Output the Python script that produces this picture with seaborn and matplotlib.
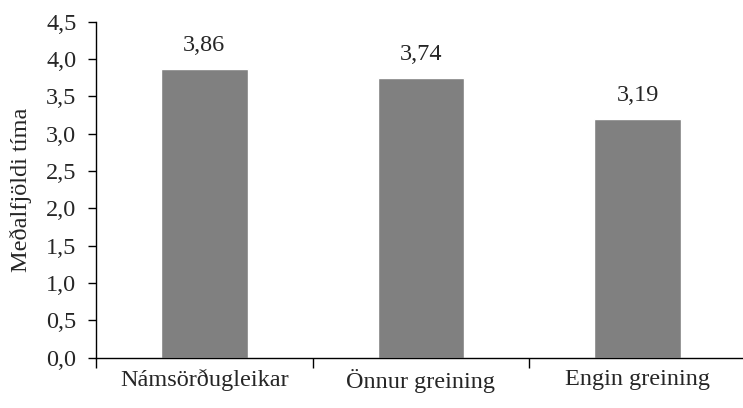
import matplotlib
matplotlib.use('Agg')
import matplotlib.pyplot as plt
import matplotlib.ticker as mticker
import pandas as pd
import seaborn as sns

# gögn
flokkar = ['Námsörðugleikar', 'Önnur greining', 'Engin greining']
medaltal = [3.86, 3.74, 3.19]
y_ticks = [0.0, 0.5, 1.0, 1.5, 2.0, 2.5, 3.0, 3.5, 4.0, 4.5]

sns.set_style('white')
plt.rcParams['font.family'] = ['Liberation Serif', 'DejaVu Serif']

df = pd.DataFrame({'flokkur': flokkar, 'gildi': medaltal})

fig = plt.figure(figsize=(7.43, 4.08), dpi=100)
ax = fig.add_axes([0.129, 0.123, 0.875, 0.824])

sns.barplot(data=df, x='flokkur', y='gildi', color='#808080', width=0.4,
            saturation=1, ax=ax)

def komma(v, pos=None):
    return f'{v:.1f}'.replace('.', ',')

ax.set_ylim(0, 4.5)
ax.set_xlim(-0.5, 2.5)
ax.set_yticks(y_ticks)
ax.yaxis.set_major_formatter(mticker.FuncFormatter(komma))
ax.set_xticks([-0.5, 0.5, 1.5, 2.5], minor=True)
ax.tick_params(axis='x', which='major', bottom=True, length=0, pad=8, labelsize=17.5)
ax.tick_params(axis='x', which='minor', bottom=True, length=7, width=1,
               direction='out', color='black')
ax.tick_params(axis='y', left=True, length=6, width=1, direction='out',
               color='black', labelsize=17.5, pad=8)

for i, v in enumerate(medaltal):
    ax.annotate(f'{v:.2f}'.replace('.', ','), (i, v), xytext=(0, 10),
                textcoords='offset points', ha='center', va='bottom', fontsize=17.5)

ax.set_xlabel('')
ax.set_ylabel('Meðalfjöldi tíma', fontsize=17.5, labelpad=10)

for s in ['top', 'right']:
    ax.spines[s].set_visible(False)
for s in ['left', 'bottom']:
    ax.spines[s].set_color('black')
    ax.spines[s].set_linewidth(1)

plt.savefig('out.png', dpi=100)
plt.close()
